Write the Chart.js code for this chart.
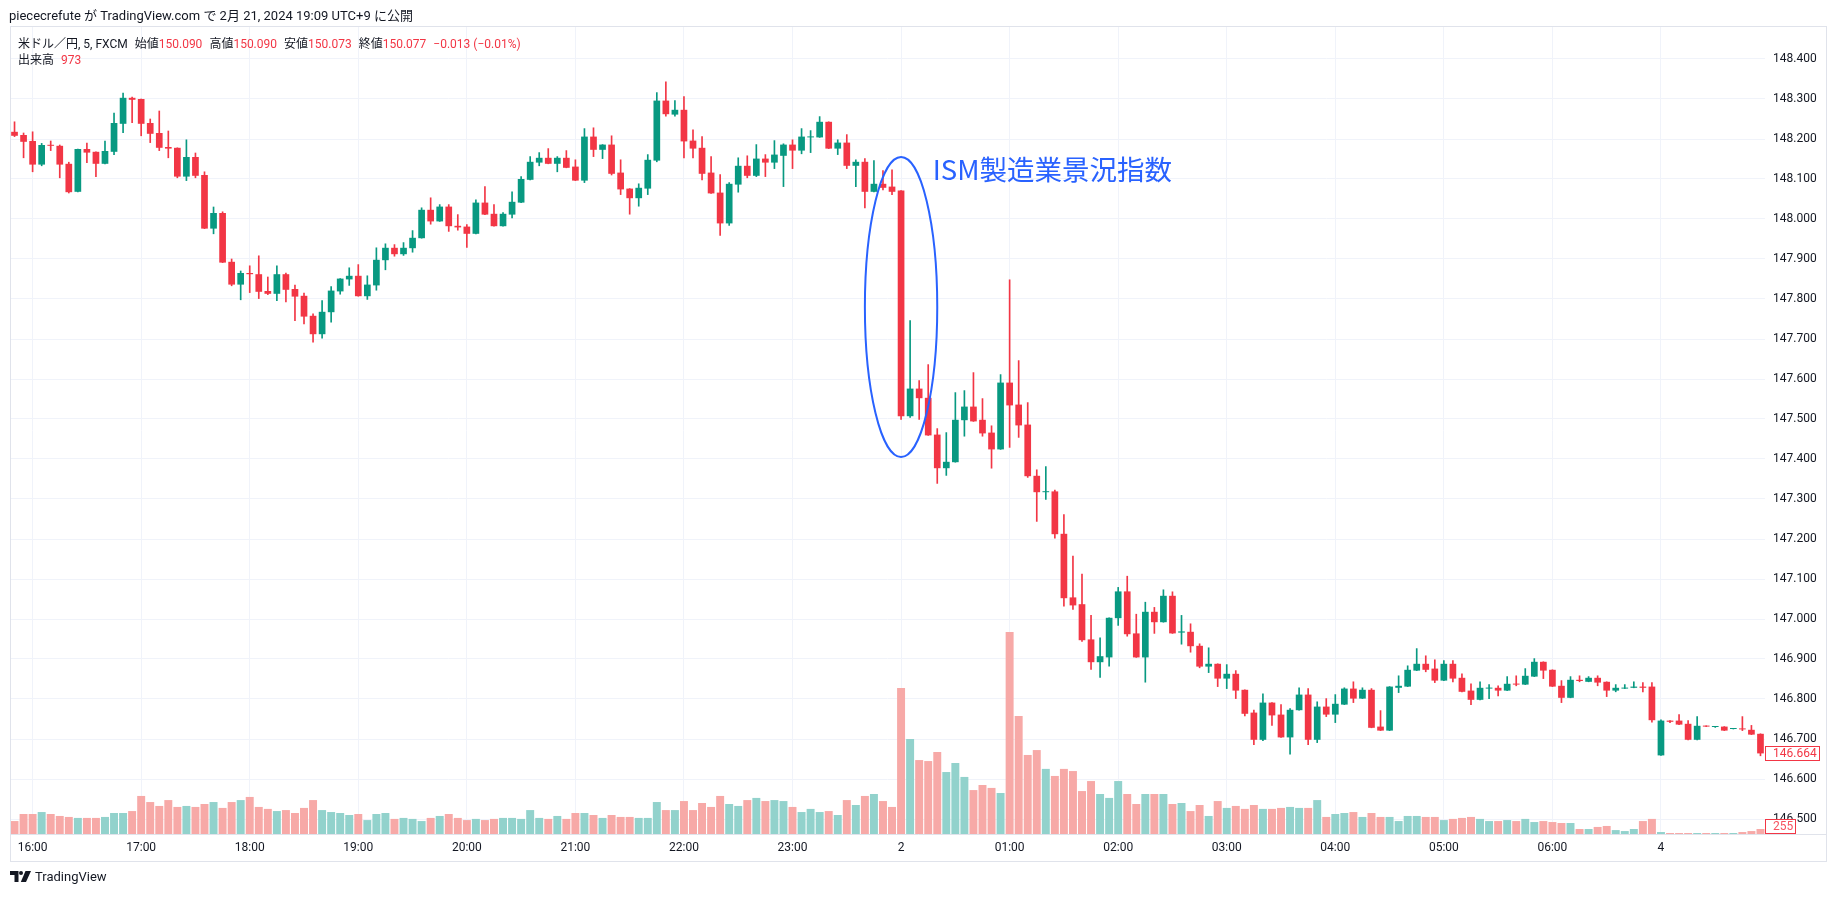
<!DOCTYPE html>
<html lang="ja">
<head>
<meta charset="utf-8">
<title>米ドル／円 5分足 ISM製造業景況指数</title>
<script src="https://cdn.jsdelivr.net/npm/chart.js@4.4.1/dist/chart.umd.min.js"></script>
<style>
  html, body { margin: 0; padding: 0; background: #fff; }
  body { width: 1835px; height: 897px; position: relative; overflow: hidden;
         font-family: Roboto, "Noto Sans CJK JP", sans-serif; color: #131722; }
  #grafico { position: absolute; left: 0; top: 0; }
  .titulo { position: absolute; left: 9px; top: 5px; font-size: 13px; white-space: nowrap; }
  .leyenda { position: absolute; left: 18px; font-size: 12px; white-space: nowrap; }
  .leyenda span { margin-right: 7px; }
  .rojo { color: #f23645; }
  .logo { position: absolute; left: 10px; top: 869px; font-size: 13px; display: flex; align-items: center; gap: 4px; }
</style>
</head>
<body>
<canvas id="grafico" width="1835" height="897"></canvas>
<div class="titulo">piececrefute が TradingView.com で 2月 21, 2024 19:09 UTC+9 に公開</div>
<div class="leyenda" style="top:34px"><span>米ドル／円, 5, FXCM</span><span>始値<b class="rojo" style="font-weight:400">150.090</b></span><span>高値<b class="rojo" style="font-weight:400">150.090</b></span><span>安値<b class="rojo" style="font-weight:400">150.073</b></span><span>終値<b class="rojo" style="font-weight:400">150.077</b></span><span class="rojo">−0.013 (−0.01%)</span></div>
<div class="leyenda" style="top:50px"><span>出来高</span><span class="rojo">973</span></div>
<div class="logo">
  <svg width="21" height="11" viewBox="0 0 21 11"><path d="M0 0h8.5v11H4.5V4H0z" fill="#131722"/><circle cx="11" cy="2" r="2" fill="#131722"/><path d="M15.5 0H21l-5 11h-5.2z" fill="#131722"/></svg>
  <span>TradingView</span>
</div>
<script>
// Eje de tiempo: 15:50 - 06:55 (día 2) y luego 07:00 - 07:55 (día 4)
const horas = ['16', '17', '18', '19', '20', '21', '22', '23', '00', '01', '02', '03', '04', '05', '06'];
const minutos = ['00', '05', '10', '15', '20', '25', '30', '35', '40', '45', '50', '55'];
const tiempos = ['15:50', '15:55', ...horas.flatMap(h => minutos.map(m => `${h}:${m}`)), ...minutos.map(m => `07:${m}`)];

// Etiquetas visibles del eje X
const etiquetasEje = {
  '16:00': '16:00', '17:00': '17:00', '18:00': '18:00', '19:00': '19:00', '20:00': '20:00',
  '21:00': '21:00', '22:00': '22:00', '23:00': '23:00', '00:00': '2', '01:00': '01:00',
  '02:00': '02:00', '03:00': '03:00', '04:00': '04:00', '05:00': '05:00', '06:00': '06:00', '07:00': '4'
};

const ticksPrecio = [146.5, 146.6, 146.7, 146.8, 146.9, 147.0, 147.1, 147.2, 147.3, 147.4,
  147.5, 147.6, 147.7, 147.8, 147.9, 148.0, 148.1, 148.2, 148.3, 148.4];

const apertura = [
  148.218, 148.210,
  148.195, 148.136, 148.185, 148.183, 148.138, 148.068, 148.175, 148.168, 148.138, 148.168, 148.238, 148.303,
  148.300, 148.240, 148.215, 148.180, 148.178, 148.106, 148.155, 148.110, 147.976, 148.015, 147.893, 147.836,
  147.865, 147.862, 147.820, 147.813, 147.862, 147.825, 147.808, 147.758, 147.712, 147.767, 147.819, 147.849,
  147.858, 147.807, 147.834, 147.897, 147.928, 147.912, 147.927, 147.952, 148.023, 147.994, 148.031, 147.983,
  147.981, 147.963, 148.041, 148.013, 147.982, 148.011, 148.041, 148.098, 148.141, 148.153, 148.138, 148.153,
  148.131, 148.096, 148.206, 148.173, 148.186, 148.116, 148.076, 148.052, 148.076, 148.146, 148.296, 148.261,
  148.273, 148.196, 148.178, 148.116, 148.066, 147.989, 148.086, 148.133, 148.108, 148.151, 148.141, 148.158,
  148.186, 148.171, 148.204, 148.204, 148.243, 148.176, 148.191, 148.133, 148.143, 148.068, 148.088, 148.081,
  148.071, 147.507, 147.576, 147.553, 147.461, 147.377, 147.392, 147.497, 147.531, 147.498, 147.466, 147.424,
  147.591, 147.536, 147.486, 147.358, 147.317, 147.319, 147.213, 147.054, 147.037, 146.949, 146.892, 146.904,
  147.002, 147.069, 146.964, 146.904, 147.018, 146.992, 147.058, 146.966, 146.968, 146.933, 146.881, 146.888,
  146.851, 146.863, 146.823, 146.766, 146.698, 146.791, 146.761, 146.704, 146.772, 146.811, 146.698, 146.781,
  146.761, 146.786, 146.826, 146.801, 146.823, 146.731, 146.721, 146.828, 146.831, 146.871, 146.888, 146.876,
  146.846, 146.888, 146.853, 146.821, 146.798, 146.826, 146.828, 146.821, 146.838, 146.836, 146.856, 146.893,
  146.873, 146.833, 146.803, 146.848, 146.843, 146.853, 146.843, 146.821, 146.826, 146.828, 146.831, 146.831,
  146.659, 146.746, 146.746, 146.738, 146.698, 146.733, 146.730, 146.731, 146.725, 146.726, 146.723, 146.713
];

const maximo = [
  148.243, 148.215,
  148.218, 148.189, 148.195, 148.185, 148.142, 148.175, 148.190, 148.168, 148.195, 148.265, 148.315, 148.305,
  148.300, 148.250, 148.270, 148.220, 148.178, 148.198, 148.165, 148.118, 148.030, 148.018, 147.900, 147.870,
  147.883, 147.908, 147.855, 147.883, 147.865, 147.835, 147.815, 147.763, 147.796, 147.831, 147.851, 147.878,
  147.886, 147.858, 147.928, 147.938, 147.936, 147.941, 147.971, 148.028, 148.053, 148.036, 148.036, 148.011,
  147.986, 148.048, 148.081, 148.036, 148.016, 148.068, 148.106, 148.156, 148.166, 148.176, 148.156, 148.171,
  148.148, 148.226, 148.228, 148.186, 148.208, 148.148, 148.076, 148.088, 148.161, 148.316, 148.343, 148.296,
  148.306, 148.223, 148.206, 148.156, 148.111, 148.091, 148.153, 148.158, 148.186, 148.161, 148.196, 148.188,
  148.198, 148.226, 148.221, 148.256, 148.243, 148.198, 148.211, 148.148, 148.151, 148.146, 148.121, 148.123,
  148.071, 147.746, 147.596, 147.636, 147.476, 147.466, 147.566, 147.571, 147.616, 147.551, 147.483, 147.611,
  147.848, 147.646, 147.541, 147.373, 147.381, 147.322, 147.261, 147.157, 147.112, 147.009, 146.953, 147.003,
  147.079, 147.107, 147.012, 147.042, 147.029, 147.073, 147.068, 147.009, 146.988, 146.938, 146.928, 146.888,
  146.886, 146.871, 146.823, 146.772, 146.813, 146.791, 146.786, 146.776, 146.828, 146.826, 146.793, 146.801,
  146.811, 146.828, 146.843, 146.828, 146.826, 146.771, 146.831, 146.858, 146.883, 146.926, 146.908, 146.898,
  146.896, 146.896, 146.863, 146.838, 146.843, 146.836, 146.833, 146.856, 146.858, 146.876, 146.901, 146.893,
  146.873, 146.846, 146.856, 146.858, 146.856, 146.858, 146.843, 146.836, 146.836, 146.843, 146.841, 146.841,
  146.748, 146.746, 146.761, 146.746, 146.756, 146.733, 146.731, 146.731, 146.726, 146.756, 146.734, 146.713
];

const minimo = [
  148.206, 148.153,
  148.118, 148.133, 148.171, 148.103, 148.065, 148.068, 148.141, 148.106, 148.138, 148.161, 148.216, 148.241,
  148.208, 148.191, 148.171, 148.153, 148.103, 148.096, 148.103, 147.976, 147.963, 147.891, 147.833, 147.798,
  147.816, 147.801, 147.811, 147.796, 147.793, 147.746, 147.738, 147.692, 147.702, 147.742, 147.812, 147.834,
  147.807, 147.799, 147.822, 147.873, 147.907, 147.909, 147.917, 147.952, 147.987, 147.994, 147.969, 147.972,
  147.929, 147.963, 148.011, 147.982, 147.982, 148.003, 148.041, 148.098, 148.133, 148.138, 148.118, 148.128,
  148.096, 148.091, 148.156, 148.151, 148.110, 148.061, 148.012, 148.032, 148.061, 148.143, 148.257, 148.257,
  148.153, 148.153, 148.098, 148.064, 147.959, 147.984, 148.067, 148.103, 148.106, 148.106, 148.126, 148.081,
  148.126, 148.163, 148.166, 148.204, 148.176, 148.161, 148.126, 148.081, 148.028, 148.068, 148.073, 148.061,
  147.499, 147.504, 147.499, 147.459, 147.339, 147.359, 147.392, 147.457, 147.494, 147.457, 147.377, 147.424,
  147.429, 147.454, 147.354, 147.244, 147.299, 147.202, 147.032, 147.024, 146.944, 146.874, 146.854, 146.882,
  146.984, 146.957, 146.904, 146.842, 146.964, 146.992, 146.964, 146.937, 146.917, 146.878, 146.866, 146.831,
  146.826, 146.801, 146.758, 146.686, 146.696, 146.734, 146.704, 146.662, 146.772, 146.686, 146.691, 146.756,
  146.741, 146.786, 146.791, 146.801, 146.728, 146.721, 146.721, 146.816, 146.831, 146.871, 146.868, 146.841,
  146.846, 146.843, 146.818, 146.786, 146.798, 146.801, 146.808, 146.821, 146.833, 146.836, 146.856, 146.851,
  146.831, 146.791, 146.803, 146.843, 146.843, 146.833, 146.806, 146.818, 146.826, 146.828, 146.818, 146.742,
  146.659, 146.741, 146.736, 146.698, 146.698, 146.731, 146.729, 146.721, 146.725, 146.721, 146.711, 146.658
];

const cierre = [
  148.208, 148.193,
  148.136, 148.185, 148.183, 148.136, 148.067, 148.175, 148.166, 148.138, 148.170, 148.240, 148.303, 148.298,
  148.238, 148.213, 148.178, 148.176, 148.106, 148.155, 148.108, 147.976, 148.015, 147.891, 147.836, 147.865,
  147.862, 147.818, 147.813, 147.862, 147.823, 147.806, 147.756, 147.712, 147.768, 147.821, 147.851, 147.858,
  147.807, 147.836, 147.898, 147.928, 147.912, 147.928, 147.953, 148.023, 147.994, 148.031, 147.982, 147.979,
  147.963, 148.041, 148.011, 147.982, 148.013, 148.043, 148.100, 148.143, 148.153, 148.138, 148.153, 148.128,
  148.096, 148.206, 148.173, 148.186, 148.113, 148.074, 148.052, 148.078, 148.148, 148.296, 148.262, 148.273,
  148.194, 148.176, 148.113, 148.064, 147.989, 148.088, 148.133, 148.108, 148.151, 148.141, 148.161, 148.186,
  148.171, 148.206, 148.206, 148.243, 148.176, 148.191, 148.133, 148.143, 148.068, 148.088, 148.078, 148.068,
  147.507, 147.576, 147.552, 147.459, 147.377, 147.393, 147.498, 147.531, 147.494, 147.464, 147.424, 147.591,
  147.534, 147.484, 147.357, 147.317, 147.319, 147.212, 147.052, 147.034, 146.947, 146.892, 146.907, 147.003,
  147.069, 146.962, 146.904, 147.018, 146.992, 147.058, 146.964, 146.969, 146.932, 146.881, 146.888, 146.851,
  146.863, 146.821, 146.763, 146.698, 146.791, 146.759, 146.704, 146.773, 146.811, 146.698, 146.781, 146.761,
  146.788, 146.826, 146.801, 146.823, 146.728, 146.721, 146.831, 146.833, 146.873, 146.888, 146.873, 146.846,
  146.888, 146.851, 146.818, 146.798, 146.828, 146.828, 146.821, 146.838, 146.836, 146.858, 146.893, 146.871,
  146.831, 146.803, 146.848, 146.845, 146.853, 146.841, 146.821, 146.828, 146.828, 146.831, 146.828, 146.747,
  146.746, 146.743, 146.736, 146.698, 146.733, 146.731, 146.731, 146.721, 146.726, 146.724, 146.711, 146.664
];

const volumen = [
  660, 1020,
  1020, 1120, 1020, 920, 870, 820, 820, 820, 870, 1070, 1070, 1170,
  1940, 1630, 1430, 1730, 1380, 1430, 1380, 1530, 1630, 1330, 1630, 1730,
  1890, 1380, 1280, 1170, 1220, 1070, 1330, 1730, 1220, 1120, 1070, 970,
  1020, 710, 1020, 1070, 770, 820, 770, 660, 820, 920, 1020, 820,
  710, 770, 710, 770, 820, 820, 770, 1220, 820, 770, 920, 770,
  1070, 1070, 970, 820, 970, 870, 870, 820, 820, 1630, 1220, 1220,
  1680, 1220, 1580, 1380, 1940, 1530, 1430, 1730, 1840, 1680, 1730, 1680,
  1380, 1120, 1280, 1120, 1170, 970, 1730, 1480, 1940, 2040, 1680, 1380,
  7450, 4850, 3770, 3720, 4180, 3160, 3620, 2910, 2240, 2500, 2350, 2090,
  10300, 6020, 4030, 4280, 3320, 2960, 3320, 3210, 2190, 2700, 2040, 1840,
  2700, 2040, 1530, 2040, 2040, 2040, 1530, 1580, 1170, 1480, 920, 1680,
  1330, 1430, 1280, 1480, 1280, 1280, 1330, 1380, 1330, 1330, 1730, 870,
  1020, 1070, 1120, 870, 1070, 870, 870, 660, 920, 920, 870, 870,
  710, 770, 820, 870, 770, 660, 660, 710, 660, 770, 610, 660,
  610, 560, 560, 255, 255, 360, 410, 200, 150, 255, 660, 770,
  100, 50, 50, 50, 50, 50, 50, 50, 50, 100, 150, 255
];

const VERDE = '#089981';
const ROJO = '#f23645';
const VERDE_VOL = '#92d2cc';
const ROJO_VOL = '#f7a9a7';
const AZUL = '#2962ff';
const FUENTE = 'Roboto, "Noto Sans CJK JP", sans-serif';

document.addEventListener('DOMContentLoaded', () => {
  const sube = (i) => cierre[i] >= apertura[i];
  const velas = apertura.map((o, i) => [o, cierre[i]]);
  const mechas = minimo.map((l, i) => [l, maximo[i]]);

  // Elipse y texto del indicador, borde del gráfico y etiquetas de último valor
  const decoraciones = {
    id: 'decoraciones',
    afterDatasetsDraw(chart) {
      const { ctx, scales: { x, y } } = chart;
      const cx = x.getPixelForValue(tiempos.indexOf('00:00'));
      const cy = y.getPixelForValue(147.78);
      const ry = cy - y.getPixelForValue(148.155);
      const rx = (x.getPixelForValue(4) - x.getPixelForValue(0));
      ctx.save();
      ctx.strokeStyle = AZUL;
      ctx.lineWidth = 2;
      ctx.beginPath();
      ctx.ellipse(cx, cy, rx, ry, 0, 0, Math.PI * 2);
      ctx.stroke();
      ctx.fillStyle = AZUL;
      ctx.font = '27.5px "Noto Sans CJK JP", sans-serif';
      ctx.textBaseline = 'middle';
      ctx.fillText('ISM製造業景況指数', x.getPixelForValue(tiempos.indexOf('00:00') + 3.5), y.getPixelForValue(148.1225));
      ctx.restore();
    },
    afterDraw(chart) {
      const { ctx, chartArea: a, scales: { y, yv } } = chart;
      ctx.save();
      // marco
      ctx.strokeStyle = '#e0e3eb';
      ctx.lineWidth = 1;
      ctx.strokeRect(10.5, 26.5, 1816, 835);
      ctx.beginPath();
      ctx.moveTo(10, a.bottom + 0.5);
      ctx.lineTo(1827, a.bottom + 0.5);
      ctx.stroke();

      const etiqueta = (texto, yc, ancho, colorTexto) => {
        ctx.fillStyle = '#fff';
        ctx.fillRect(a.right, yc - 7, ancho, 14);
        ctx.strokeStyle = ROJO;
        ctx.strokeRect(a.right + 0.5, Math.round(yc - 7) + 0.5, ancho - 1, 14);
        ctx.fillStyle = colorTexto;
        ctx.font = '12px ' + FUENTE;
        ctx.textBaseline = 'middle';
        ctx.fillText(texto, a.right + 8, yc + 1);
      };
      const ultimo = cierre.length - 1;
      etiqueta(cierre[ultimo].toFixed(3), y.getPixelForValue(cierre[ultimo]), 55, ROJO);
      etiqueta(String(volumen[ultimo]), Math.min(yv.getPixelForValue(volumen[ultimo]), a.bottom - 8), 31, '#f7525f');
      ctx.restore();
    }
  };

  new Chart(document.getElementById('grafico'), {
    type: 'bar',
    data: {
      labels: tiempos,
      datasets: [
        {
          label: 'Cuerpo',
          data: velas,
          backgroundColor: velas.map((_, i) => sube(i) ? VERDE : ROJO),
          grouped: false,
          categoryPercentage: 1,
          barPercentage: 0.74,
          minBarLength: 1,
          borderWidth: 0,
          yAxisID: 'y',
          order: 0
        },
        {
          label: 'Mecha',
          data: mechas,
          backgroundColor: mechas.map((_, i) => sube(i) ? VERDE : ROJO),
          grouped: false,
          barThickness: 1,
          borderWidth: 0,
          yAxisID: 'y',
          order: 1
        },
        {
          label: '出来高',
          data: volumen,
          backgroundColor: volumen.map((_, i) => sube(i) ? VERDE_VOL : ROJO_VOL),
          grouped: false,
          categoryPercentage: 1,
          barPercentage: 0.88,
          borderWidth: 0,
          yAxisID: 'yv',
          order: 2
        }
      ]
    },
    options: {
      responsive: false,
      animation: false,
      devicePixelRatio: 1,
      layout: {
        padding: { left: 10, right: 8, top: 27, bottom: 35 }
      },
      plugins: {
        legend: { display: false },
        tooltip: { enabled: false }
      },
      scales: {
        x: {
          offset: true,
          grid: { offset: false, color: '#f0f3fa', drawTicks: false },
          border: { display: false },
          ticks: {
            autoSkip: false,
            maxRotation: 0,
            padding: 7,
            color: '#131722',
            font: { size: 12, family: FUENTE },
            callback: function (valor) {
              const t = this.getLabelForValue(valor);
              return etiquetasEje[t] ?? null;
            }
          },
          afterFit: (escala) => { escala.height = 28; }
        },
        y: {
          position: 'right',
          min: 146.4625,
          max: 148.48,
          afterBuildTicks: (escala) => { escala.ticks = ticksPrecio.map(v => ({ value: v })); },
          grid: { color: '#f0f3fa', drawTicks: false },
          border: { display: false },
          ticks: {
            padding: 8,
            color: '#131722',
            font: { size: 12, family: FUENTE },
            callback: (v) => v.toFixed(3)
          },
          afterFit: (escala) => { escala.width = 62; }
        },
        yv: {
          display: false,
          min: 0,
          max: 41150
        }
      }
    },
    plugins: [decoraciones]
  });
});
</script>
</body>
</html>
